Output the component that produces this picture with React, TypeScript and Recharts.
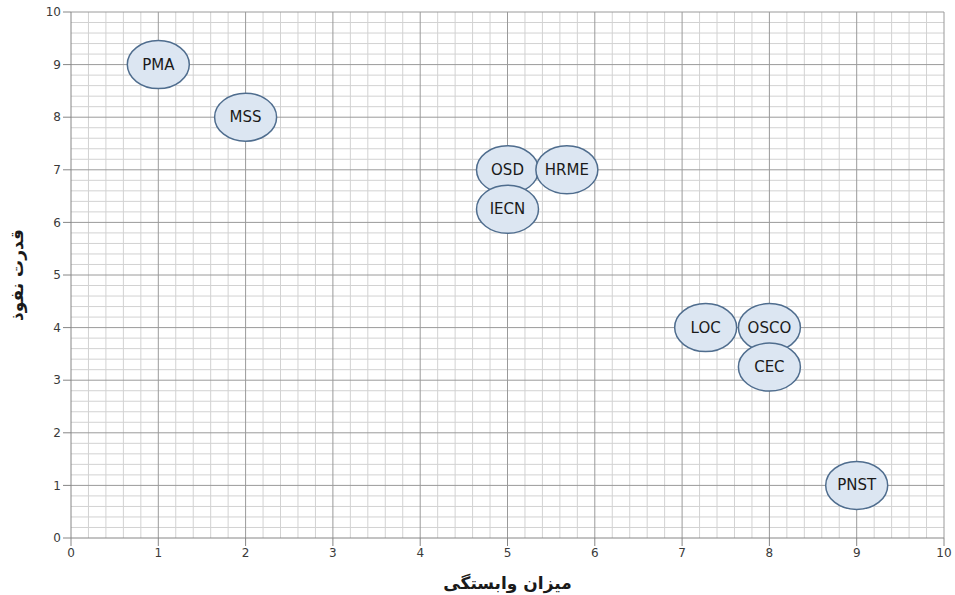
import React from 'react';
import { ScatterChart, Scatter, XAxis, YAxis, ReferenceLine } from 'recharts';

const names = ['PMA', 'MSS', 'OSD', 'HRME', 'IECN', 'LOC', 'OSCO', 'CEC', 'PNST'];
const dependence = [1, 2, 5, 5.68, 5, 7.27, 8, 8, 9];
const power = [9, 8, 7, 7, 6.25, 4, 4, 3.25, 1];
const axisTicks = [0, 1, 2, 3, 4, 5, 6, 7, 8, 9, 10];
const minorSteps = [0.2, 0.4, 0.6, 0.8];

const data = names.map((name, i) => ({ name, x: dependence[i], y: power[i] }));
const minorTicks = axisTicks.slice(0, -1).flatMap((t) => minorSteps.map((s) => +(t + s).toFixed(1)));

const FONT = 'DejaVu Sans, Verdana, sans-serif';

const Bubble = (props: any) => {
  const { cx, cy, payload } = props;
  return (
    <g>
      <ellipse cx={cx} cy={cy} rx={31} ry={24} fill="#dce6f2" stroke="#4f6d8e" strokeWidth={1.5} />
      <text x={cx} y={cy} dy={5} textAnchor="middle" fontSize={15} fontFamily={FONT} fill="#1a1a1a">
        {payload.name}
      </text>
    </g>
  );
};

export default function App() {
  return (
    <div style={{ position: 'absolute', left: 0, top: 0, width: 955, height: 595, background: '#fff' }}>
      <ScatterChart width={955} height={595} margin={{ top: 12, right: 11, bottom: 0, left: 31 }}>
        {minorTicks.map((t) => (
          <ReferenceLine key={'vx' + t} x={t} stroke="#d2d2d2" strokeWidth={1} />
        ))}
        {minorTicks.map((t) => (
          <ReferenceLine key={'hy' + t} y={t} stroke="#d2d2d2" strokeWidth={1} />
        ))}
        {axisTicks.slice(1).map((t) => (
          <ReferenceLine key={'VX' + t} x={t} stroke="#9a9a9a" strokeWidth={1} />
        ))}
        {axisTicks.slice(1).map((t) => (
          <ReferenceLine key={'HY' + t} y={t} stroke="#9a9a9a" strokeWidth={1} />
        ))}
        <XAxis
          type="number"
          dataKey="x"
          domain={[0, 10]}
          ticks={axisTicks}
          height={57}
          stroke="#868686"
          tickSize={8}
          tick={{ fill: '#3a3a3a', fontSize: 12, fontFamily: FONT }}
          label={{
            value: 'میزان وابستگی',
            position: 'insideBottom',
            offset: 6,
            style: { fill: '#1a1a1a', fontSize: 17, fontWeight: 'bold', fontFamily: FONT },
          }}
        />
        <YAxis
          type="number"
          dataKey="y"
          domain={[0, 10]}
          ticks={axisTicks}
          width={40}
          stroke="#868686"
          tickSize={8}
          tick={{ fill: '#3a3a3a', fontSize: 12, fontFamily: FONT }}
          label={{
            value: 'قدرت نفوذ',
            angle: -90,
            position: 'left',
            offset: 14,
            style: { textAnchor: 'middle', fill: '#1a1a1a', fontSize: 17, fontWeight: 'bold', fontFamily: FONT },
          }}
        />
        <Scatter data={data} shape={<Bubble />} isAnimationActive={false} />
      </ScatterChart>
    </div>
  );
}
